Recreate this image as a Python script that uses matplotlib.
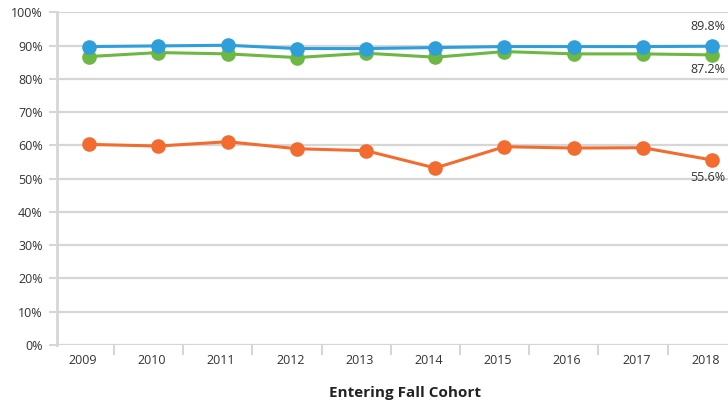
import matplotlib
matplotlib.use("Agg")
import matplotlib.pyplot as plt
from matplotlib.ticker import FixedLocator
import numpy as np

years = ["2009", "2010", "2011", "2012", "2013", "2014", "2015", "2016", "2017", "2018"]
blue_vals = [89.7, 89.9, 90.1, 89.1, 89.1, 89.4, 89.7, 89.7, 89.7, 89.8]
green_vals = [86.7, 87.9, 87.5, 86.4, 87.7, 86.5, 88.2, 87.5, 87.5, 87.2]
orange_vals = [60.3, 59.8, 61.1, 59.0, 58.4, 53.2, 59.6, 59.2, 59.3, 55.6]
y_ticks = [0, 10, 20, 30, 40, 50, 60, 70, 80, 90, 100]

plt.rcParams['font.family'] = ['Open Sans', 'DejaVu Sans']

W, H = 728, 404
fig = plt.figure(figsize=(W / 100, H / 100), dpi=100)
ax = fig.add_axes([56.7 / W, (H - 345) / H, (W - 56.7) / W, (345 - 12.3) / H])

x = np.arange(len(years))
blue = "#2e9fdb"
green = "#6cb843"
orange = "#f26b2f"
grid_c = "#d6d6d6"

ax.set_ylim(0, 100)
ax.set_xlim(-0.47, 9.23)

for yv in y_ticks:
    ax.axhline(yv, color=grid_c, lw=1.6, zorder=0)

ax.plot(x, green_vals, color=green, lw=2.2, marker="o", ms=9.5, zorder=3)
ax.plot(x, blue_vals, color=blue, lw=2.2, marker="o", ms=9.5, zorder=4)
ax.plot(x, orange_vals, color=orange, lw=2.2, marker="o", ms=9.5, zorder=3)

# end labels
tc = "#333333"
ax.annotate(f"{blue_vals[-1]:.1f}%", (x[-1], blue_vals[-1]), xytext=(-4, 20),
            textcoords="offset pixels", ha="center", va="center", fontsize=9, color=tc)
ax.annotate(f"{green_vals[-1]:.1f}%", (x[-1], green_vals[-1]), xytext=(-4, -15),
            textcoords="offset pixels", ha="center", va="center", fontsize=9, color=tc)
ax.annotate(f"{orange_vals[-1]:.1f}%", (x[-1], orange_vals[-1]), xytext=(-4, -17),
            textcoords="offset pixels", ha="center", va="center", fontsize=9, color=tc)

for s in ["top", "right", "bottom"]:
    ax.spines[s].set_visible(False)
ax.spines["left"].set_color(grid_c)
ax.spines["left"].set_linewidth(2)

ax.yaxis.set_major_locator(FixedLocator(y_ticks))
ax.set_yticklabels([f"{v}%" for v in y_ticks])
ax.tick_params(axis="y", length=6, width=1.5, color=grid_c, labelsize=9, labelcolor=tc, pad=4)

# x tick marks at category boundaries, labels at category positions
ax.xaxis.set_major_locator(FixedLocator(list(x + 0.357)[:-1]))
ax.set_xticklabels([])
ax.tick_params(axis="x", length=7, width=1.5, color=grid_c)
for i, yr in enumerate(years):
    ax.text(x[i] - 0.095, -4.8, yr, ha="center", va="center", fontsize=9, color=tc,
            transform=ax.transData)

fig.text(405 / W, 1 - 393 / H, "Entering Fall Cohort", ha="center", va="center",
         fontsize=11, fontweight="bold", color="#222222")

fig.savefig("out.png", dpi=100)
